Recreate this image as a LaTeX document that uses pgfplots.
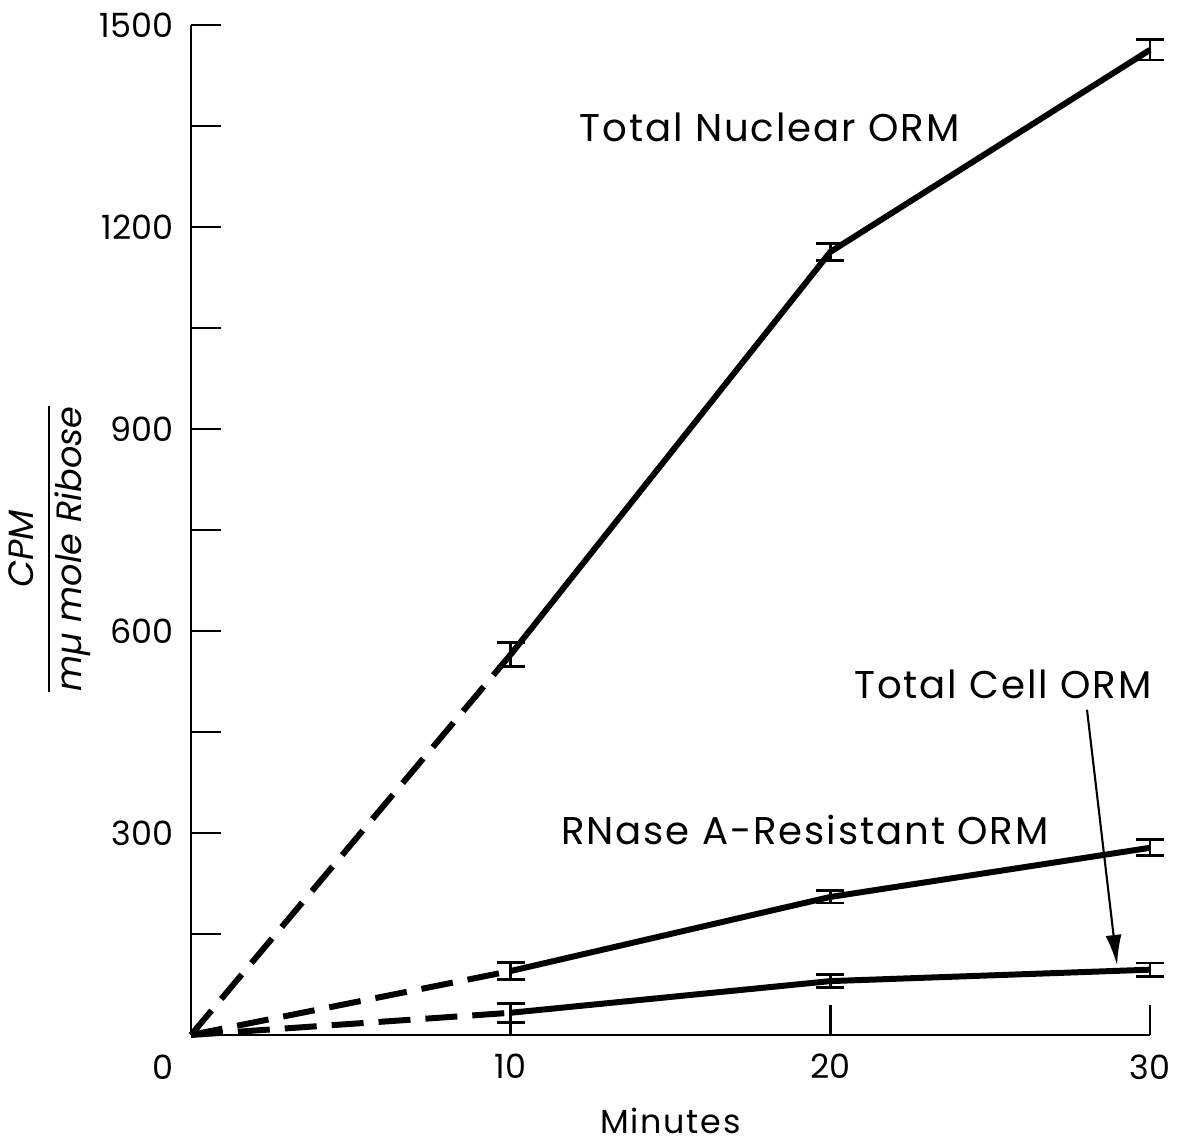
\documentclass[border=0pt]{standalone}
\usepackage{amsmath}
\usepackage{fontspec}
\setmainfont{Poppins}
\usepackage{pgfplots}
\pgfplotsset{compat=1.18}
\usetikzlibrary{arrows.meta}
\newcommand{\annfont}{\fontsize{11}{13}\selectfont\addfontfeature{LetterSpace=5}}
\begin{document}
\begin{tikzpicture}
\useasboundingbox (-19.1mm,-11.1mm) rectangle (99.4mm,103.5mm);
\begin{axis}[
  scale only axis,
  width=95.9mm, height=101mm,
  xmin=0, xmax=30, ymin=0, ymax=1500,
  axis lines*=left,
  axis line style={line width=0.8pt},
  xtick={10,20,30},
  ytick={150,300,450,600,750,900,1050,1200,1350,1500},
  yticklabels={,300,,600,,900,,1200,,1500},
  tick align=inside,
  major tick length=3mm,
  tick style={line width=0.8pt, black},
  tick label style={font=\fontsize{9.5}{11}\selectfont},
  /pgf/number format/assume math mode=true,
  xticklabel style={yshift=-0.7mm},
  yticklabel style={xshift=-0.5mm},
  xlabel={Minutes},
  xlabel style={font=\fontsize{9.5}{11}\selectfont\addfontfeature{LetterSpace=5}, yshift=-0.5mm},
  ylabel={$\dfrac{\text{\itshape CPM}}{\text{\itshape m\textmu\ mole Ribose}}$},
  ylabel style={yshift=-1.5mm, xshift=-1.9mm},
  clip=false,
]
% dashed segments from origin
\addplot[black, line width=1.7pt, dash pattern=on 3.2mm off 1.5mm] coordinates {(0,0) (10,565)};
\addplot[black, line width=1.7pt, dash pattern=on 3.2mm off 1.5mm] coordinates {(0,0) (10,95)};
\addplot[black, line width=1.7pt, dash pattern=on 3.2mm off 1.5mm] coordinates {(0,0) (10,33)};
% solid segments with error bars
\addplot[black, line width=1.7pt,
  error bars/.cd, y dir=both, y explicit,
  error bar style={line width=0.8pt},
  error mark options={rotate=90, mark size=1.4mm, line width=0.8pt}]
  coordinates {(10,565) +- (0,18) (20,1163) +- (0,13) (30,1463) +- (0,15)};
\addplot[black, line width=1.7pt,
  error bars/.cd, y dir=both, y explicit,
  error bar style={line width=0.8pt},
  error mark options={rotate=90, mark size=1.4mm, line width=0.8pt}]
  coordinates {(10,95) +- (0,13) (20,205) +- (0,9) (30,278) +- (0,12)};
\addplot[black, line width=1.7pt,
  error bars/.cd, y dir=both, y explicit,
  error bar style={line width=0.8pt},
  error mark options={rotate=90, mark size=1.4mm, line width=0.8pt}]
  coordinates {(10,33) +- (0,14) (20,80) +- (0,10) (30,97) +- (0,10)};
% annotations
\node[font=\annfont] at (axis cs:18.1,1348) {Total Nuclear ORM};
\node[font=\annfont] at (axis cs:25.4,520) {Total Cell ORM};
\node[font=\annfont] at (axis cs:19.2,305) {RNase A-Resistant ORM};
\draw[-{Latex[length=3mm,width=1.6mm]}, line width=0.6pt] (axis cs:28.03,483) -- (axis cs:28.97,104);
\node[font=\fontsize{9.5}{11}\selectfont, anchor=north east] at (axis cs:-0.15,-12) {0};
\end{axis}
\end{tikzpicture}
\end{document}
